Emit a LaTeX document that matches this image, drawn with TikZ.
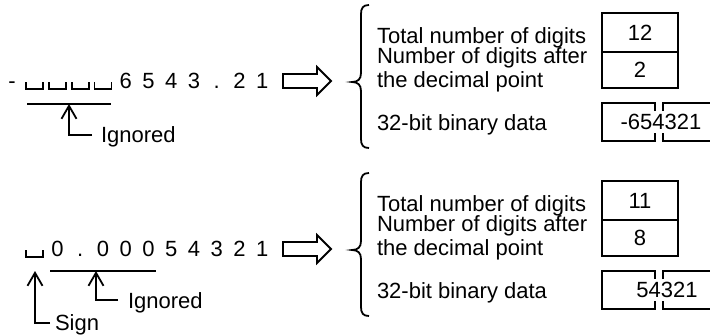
\documentclass[tikz,border=0pt]{standalone}
\usepackage{fontspec}
\setmainfont{Liberation Sans}
\usetikzlibrary{arrows.meta}
\begin{document}
\begin{tikzpicture}[x=1pt,y=-1pt,
  every node/.style={inner sep=0pt, outer sep=0pt, font=\fontsize{22}{25}\selectfont},
  ln/.style={line width=1.8pt},
  blank/.style={line width=1.8pt},
  barb/.style={line width=1.8pt, -{Straight Barb[length=13pt,width=15pt,line width=1.8pt]}},
  blockarrow/.style={line width=1.8pt, line join=miter},
  brace/.style={line width=1.8pt},
  valbox/.style={draw, line width=1.8pt, minimum width=76pt, align=center},
  lbl/.style={anchor=base west},
  dig/.style={anchor=base}
]
\useasboundingbox (0,0) rectangle (710,335);

% ---------- top row ----------
\node[dig] (tm) at (12,88) {-};
\foreach \i in {1,2,3,4}{
  \pgfmathsetmacro{\xx}{12+22.75*\i}
  \draw[blank] (\xx-8.5,82) -- (\xx-8.5,89) -- (\xx+8.5,89) -- (\xx+8.5,82);
}
\node[dig] (t5) at (125.75,88) {6};
\node[dig] (t6) at (148.5,88) {5};
\node[dig] (t7) at (171.25,88) {4};
\node[dig] (t8) at (194,88) {3};
\node[dig] (t9) at (216.75,88) {.};
\node[dig] (t10) at (239.5,88) {2};
\node[dig] (t11) at (262.25,88) {1};

\coordinate (tula) at (27,104);
\coordinate (tulb) at (111,104);
\draw[ln] (tula) -- (tulb);
\coordinate (ttip) at (69,104);
\coordinate (tcorner) at (92,135);
\draw[barb] (tcorner) -| (ttip);
\node[lbl] (tign) at (101,142) {Ignored};

\draw[blockarrow] (283,74) -- (317,74) -- (317,67) -- (331,81) -- (317,95) -- (317,88) -- (283,88) -- cycle;

\draw[brace] (369,5) .. controls (363,5) and (361,8) .. (361,14) -- (361,73)
  .. controls (361,79) and (358,82) .. (352,82)
  .. controls (358,82) and (361,85) .. (361,91) -- (361,139)
  .. controls (361,145) and (363,148) .. (369,148);

\node[lbl] (tl1) at (377,43) {Total number of digits};
\node[lbl] (tl2) at (377,63) {Number of digits after};
\node[lbl] (tl3) at (377,87) {the decimal point};
\node[lbl] (tl4) at (377,130) {32-bit binary data};

\node[valbox, minimum height=39pt] (tb1) at (640,32.5) {12};
\node[valbox, minimum height=36pt] (tb2) at (640,70) {2};
\draw[ln] (655,111) -- (655,103) -- (602,103) -- (602,141) -- (655,141) -- (655,133);
\draw[ln] (663,111) -- (663,103) -- (712,103);
\draw[ln] (663,133) -- (663,141) -- (712,141);
\node (tb3) at (661,122) {-654321};

% ---------- bottom row ----------
\draw[blank] (34.75-8.5,250) -- (34.75-8.5,257) -- (34.75+8.5,257) -- (34.75+8.5,250);
\node[dig] (b2) at (57.5,256) {0};
\node[dig] (b3) at (80.25,256) {.};
\node[dig] (b4) at (103,256) {0};
\node[dig] (b5) at (125.75,256) {0};
\node[dig] (b6) at (148.5,256) {0};
\node[dig] (b7) at (171.25,256) {5};
\node[dig] (b8) at (194,256) {4};
\node[dig] (b9) at (216.75,256) {3};
\node[dig] (b10) at (239.5,256) {2};
\node[dig] (b11) at (262.25,256) {1};

\coordinate (bula) at (50,271);
\coordinate (bulb) at (156,271);
\draw[ln] (bula) -- (bulb);
\coordinate (btip) at (96,271);
\coordinate (bcorner) at (118,300);
\draw[barb] (bcorner) -| (btip);
\node[lbl] (bign) at (128,308) {Ignored};
\coordinate (stip) at (35,271);
\coordinate (scorner) at (50,323);
\draw[barb] (scorner) -| (stip);
\node[lbl] (sign) at (55,330) {Sign};

\draw[blockarrow] (283,242) -- (317,242) -- (317,235) -- (331,249) -- (317,263) -- (317,256) -- (283,256) -- cycle;

\draw[brace] (369,173) .. controls (363,173) and (361,176) .. (361,182) -- (361,241)
  .. controls (361,247) and (358,250) .. (352,250)
  .. controls (358,250) and (361,253) .. (361,259) -- (361,307)
  .. controls (361,313) and (363,316) .. (369,316);

\node[lbl] (bl1) at (377,211) {Total number of digits};
\node[lbl] (bl2) at (377,231) {Number of digits after};
\node[lbl] (bl3) at (377,255) {the decimal point};
\node[lbl] (bl4) at (377,298) {32-bit binary data};

\node[valbox, minimum height=39pt] (bb1) at (640,200.5) {11};
\node[valbox, minimum height=36pt] (bb2) at (640,238) {8};
\draw[ln] (655,279) -- (655,271) -- (602,271) -- (602,309) -- (655,309) -- (655,301);
\draw[ln] (663,279) -- (663,271) -- (712,271);
\draw[ln] (663,301) -- (663,309) -- (712,309);
\node (bb3) at (667,290) {54321};
\end{tikzpicture}
\end{document}
